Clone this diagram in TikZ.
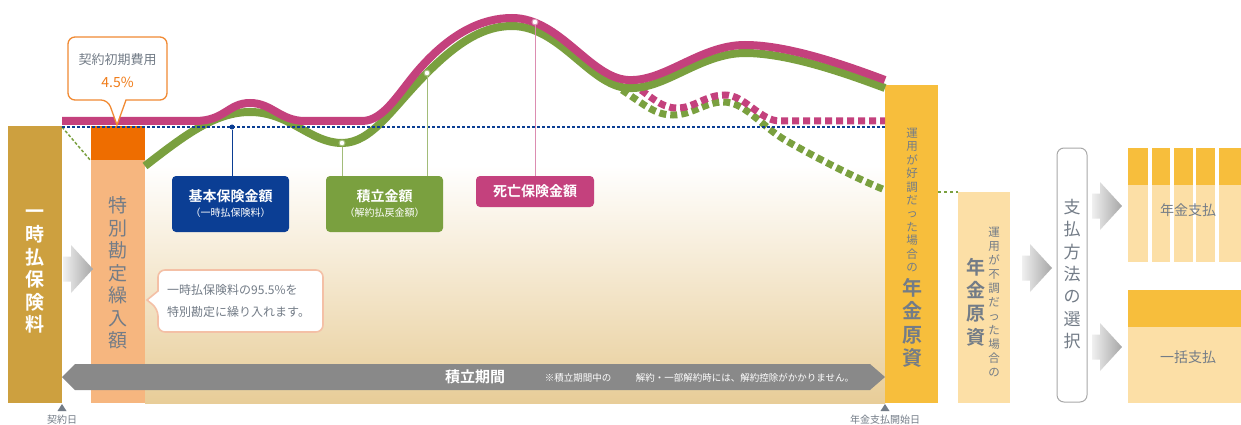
\documentclass[tikz,border=0pt]{standalone}
\usepackage{fontspec}
\setmainfont{Noto Sans CJK JP}[BoldFont={Noto Sans CJK JP Bold}]
\usetikzlibrary{calc}
\definecolor{goldc}{HTML}{CDA03F}
\definecolor{orangec}{HTML}{EE6D00}
\definecolor{salmonc}{HTML}{F6B67F}
\definecolor{yellowc}{HTML}{F7BE3C}
\definecolor{lyellowc}{HTML}{FCDFA6}
\definecolor{tanc}{HTML}{E8CD98}
\definecolor{barc}{HTML}{898989}
\definecolor{magc}{HTML}{C4417D}
\definecolor{grnc}{HTML}{7AA03F}
\definecolor{navyc}{HTML}{0B3E94}
\definecolor{txtc}{HTML}{737C87}
\definecolor{callc}{HTML}{F4C0A6}
\definecolor{framec}{HTML}{A8A8A8}
\begin{document}
\begin{tikzpicture}[x=1pt,y=-1pt,
  col/.style={inner sep=0, outer sep=0, anchor=north west},
  vtxt/.style={align=center, inner sep=0},
  lbl/.style={rounded corners=4, text=white, align=center, inner sep=0, minimum width=117},
  solidcurve/.style={line width=8},
  dashcurve/.style={line width=7, dash pattern=on 7pt off 4pt},
  ring/.style={circle, draw, fill=white, inner sep=0, minimum size=6, line width=1},
  garrow/.pic={\shade[left color=gray!12, right color=gray!70]
     (-15,-12.5) -- (-7,-12.5) -- (-7,-24) -- (15,0) -- (-7,24) -- (-7,12.5) -- (-15,12.5) -- cycle;},
  small/.style={font=\fontsize{10}{12}\selectfont, text=txtc, inner sep=0}
]
\useasboundingbox (0,0) rectangle (1241,425);
\fill[white] (0,0) rectangle (1241,425);

% background gradient
\shade[top color=white, bottom color=tanc] (145,165) rectangle (885,403);

% columns
\node[col, fill=goldc, minimum width=54, minimum height=277] (lump) at (8,126) {};
\node[col, fill=orangec, minimum width=54, minimum height=34] (cost) at (91,126) {};
\node[col, fill=salmonc, minimum width=54, minimum height=243] (spec) at (91,160) {};
\node[col, fill=yellowc, minimum width=53, minimum height=318] (good) at (885,85) {};
\node[col, fill=lyellowc, minimum width=52, minimum height=211] (bad) at (958,192) {};

% arrows
\pic at (78,269) {garrow};
\pic at (1037,268) {garrow};
\pic at (1107,206) {garrow};
\pic at (1107,347) {garrow};

% period bar
\fill[barc] (62,377) -- (75,364) -- (870,364) -- (885,377) -- (870,390) -- (75,390) -- cycle;
\node[font=\bfseries\fontsize{15}{18}\selectfont, text=white, inner sep=0] (period) at (475,377) {積立期間};
\node[font=\fontsize{9.5}{12}\selectfont, text=white, inner sep=0] (note1) at (578,378) {※積立期間中の};
\node[font=\fontsize{9.5}{12}\selectfont, text=white, inner sep=0] (note2) at (745,378) {解約・一部解約時には、解約控除がかかりません。};

% curves
\draw[grnc, line width=1.5, dash pattern=on 3pt off 2pt] (62,127) -- (91,161);
\draw[grnc, dashcurve] (622,90) .. controls (645,105) and (655,115) .. (673,115) .. controls (692,115) and (705,102) .. (723,102) .. controls (745,102) and (760,125) .. (785,140) .. controls (820,160) and (860,180) .. (885,190);
\draw[magc, dashcurve] (632,84) .. controls (650,95) and (660,108) .. (677,108) .. controls (695,108) and (705,95) .. (725,95) .. controls (745,95) and (760,121) .. (780,121) -- (885,121);
\draw[grnc, solidcurve] (145,166) .. controls (185,135) and (215,112) .. (250,112) .. controls (290,112) and (310,143) .. (342,143) .. controls (372,143) and (392,108) .. (427,73) .. controls (460,40) and (485,26) .. (512,26) .. controls (560,26) and (590,86) .. (628,88) .. controls (665,90) and (700,53) .. (745,53) .. controls (790,53) and (850,75) .. (885,88);
\draw[magc, solidcurve] (62,121) -- (195,121) .. controls (225,121) and (228,103) .. (250,103) .. controls (272,103) and (280,121) .. (305,121) -- (362,121) .. controls (385,121) and (400,90) .. (422,66) .. controls (452,33) and (482,18) .. (512,18) .. controls (560,18) and (590,78) .. (628,80) .. controls (665,82) and (700,45) .. (745,45) .. controls (790,45) and (850,67) .. (885,80);
\draw[grnc, line width=2.5, dash pattern=on 3pt off 3pt] (good.east |- 0,192) -- (bad.north west);
\draw[navyc, line width=2.4, dash pattern=on 2.5pt off 2.5pt] (62,127) -- (885,127);

% label boxes
\node[lbl, fill=navyc, minimum height=56] (kihon) at (230.5,204) {{\bfseries\fontsize{14}{19}\selectfont 基本保険金額}\\[3pt]{\fontsize{10}{13}\selectfont （一時払保険料）}};
\node[lbl, fill=grnc, minimum height=56] (tsumi) at (384.5,204) {{\bfseries\fontsize{14}{19}\selectfont 積立金額}\\[3pt]{\fontsize{10}{13}\selectfont （解約払戻金額）}};
\node[lbl, fill=magc, minimum height=31, minimum width=118] (shibo) at (535,191.5) {\bfseries\fontsize{14}{18}\selectfont 死亡保険金額};

% connectors
\node[circle, fill=navyc, inner sep=0, minimum size=5] (kd) at (232,127) {};
\draw[navyc, line width=1] (kd) -- (kd |- kihon.north);
\node[ring, draw=grnc!70] (g1) at (342,143) {};
\node[ring, draw=grnc!70] (g2) at (427,73) {};
\draw[grnc!70, line width=1] (g1.south) -- (g1 |- tsumi.north);
\draw[grnc!70, line width=1] (g2.south) -- (g2 |- tsumi.north);
\node[ring, draw=magc!60] (m1) at (535,22) {};
\draw[magc!60, line width=1] (m1.south) -- (m1 |- shibo.north);

% callout 1
\draw[orangec!80, line width=1.3, fill=white] (108,100) -- (117,125) -- (126,100) [rounded corners=7] -- (167,100) -- (167,37) -- (68,37) -- (68,100) -- cycle;
\node[font=\fontsize{13}{16}\selectfont, text=txtc, inner sep=0] (costlbl) at (117.5,60) {契約初期費用};
\node[font=\fontsize{14}{16}\selectfont, text=orangec!90, inner sep=0] (costpct) at (117.5,82) {4.5\%};

% callout 2
\draw[callc, line width=1.6, fill=white] (158,309) -- (147,300) -- (158,291) [rounded corners=7] -- (158,270) -- (323,270) -- (323,332) -- (158,332) -- cycle;
\node[font=\fontsize{12}{22}\selectfont, text=txtc, align=left, anchor=west, inner sep=0] (calltxt) at (167,301) {一時払保険料の95.5\%を\\特別勘定に繰り入れます。};

% vertical texts
\node[vtxt, font=\bfseries\fontsize{19}{22.6}\selectfont, text=white] at (35,272) {一\\時\\払\\保\\険\\料};
\node[vtxt, font=\fontsize{19}{22.5}\selectfont, text=txtc] at (118,273) {特\\別\\勘\\定\\繰\\入\\額};
\node[vtxt, font=\fontsize{11.5}{13.4}\selectfont, text=txtc] at (912,200) {運\\用\\が\\好\\調\\だ\\っ\\た\\場\\合\\の};
\node[vtxt, font=\bfseries\fontsize{20}{23.3}\selectfont, text=txtc] at (912,323) {年\\金\\原\\資};
\node[vtxt, font=\bfseries\fontsize{19}{23.3}\selectfont, text=txtc] at (976,302) {年\\金\\原\\資};
\node[vtxt, font=\fontsize{11.5}{14}\selectfont, text=txtc] at (994,302) {運\\用\\が\\不\\調\\だ\\っ\\た\\場\\合\\の};

% choice frame
\node[col, draw=framec, line width=1, fill=white, rounded corners=7, minimum width=30, minimum height=254] (choice) at (1057,148) {};
\node[vtxt, font=\fontsize{17}{22.4}\selectfont, text=txtc] at (choice.center |- 0,274) {支\\払\\方\\法\\の\\選\\択};

% pension payments
\foreach \xa/\xb in {1128/1148, 1152/1170, 1174/1193, 1196/1215, 1219/1241}{
  \fill[lyellowc] (\xa,185) rectangle (\xb,262);
  \fill[yellowc] (\xa,148) rectangle (\xb,185);
}
\node[font=\fontsize{14}{16}\selectfont, text=txtc, inner sep=0] (nenkin) at (1188,210) {年金支払};
\fill[lyellowc] (1128,327) rectangle (1241,403);
\fill[yellowc] (1128,290) rectangle (1241,327);
\node[font=\fontsize{14}{16}\selectfont, text=txtc, inner sep=0] (ikkatsu) at (1188,357) {一括支払};

% bottom markers
\fill[txtc] (57.5,411) -- (62,404) -- (66.5,411) -- cycle;
\node[small] (keiyaku) at (62,420) {契約日};
\fill[txtc] (880.5,411) -- (885,404) -- (889.5,411) -- cycle;
\node[small] (kaishi) at (885,420) {年金支払開始日};
\end{tikzpicture}
\end{document}
